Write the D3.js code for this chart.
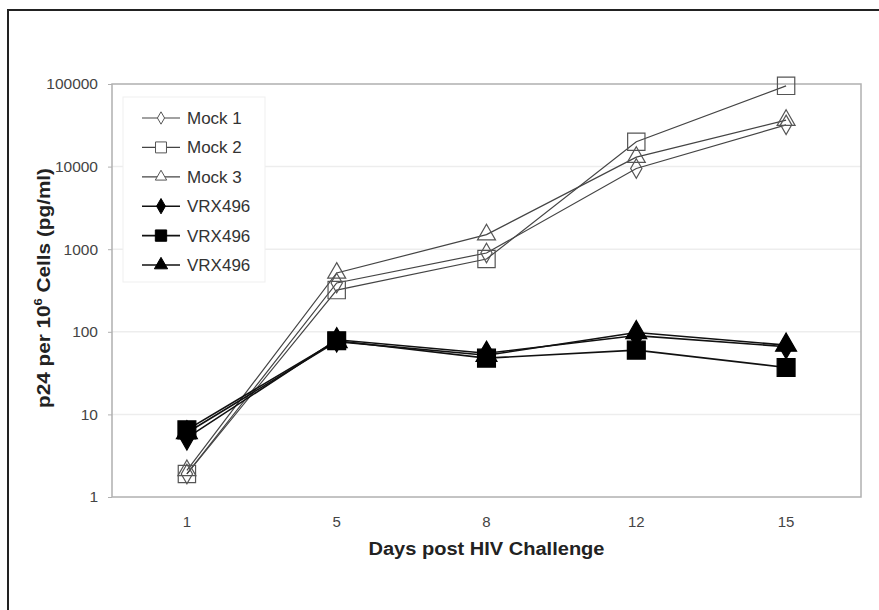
<!DOCTYPE html>
<html lang="en">
<head>
<meta charset="UTF-8"/>
<title>p24 per 10^6 cells</title>
<script src="https://d3js.org/d3.v7.min.js"></script>
<style>
  body { margin: 0; background: #fff; }
  text { font-family: "Liberation Sans", Arial, sans-serif; }
</style>
</head>
<body>
<script>
// data
var days = ["1", "5", "8", "12", "15"];
var yTicks = [1, 10, 100, 1000, 10000, 100000];
var seriesNames = ["Mock 1", "Mock 2", "Mock 3", "VRX496", "VRX496", "VRX496"];
var mock1 = [1.9, 390, 900, 9500, 32000];
var mock2 = [1.9, 320, 760, 20000, 95000];
var mock3 = [2.1, 515, 1500, 13000, 36500];
var vrxDiamond = [5.2, 80, 55, 90, 66];
var vrxSquare = [6.5, 78, 48, 60, 37];
var vrxTriangle = [6.0, 76, 52, 98, 69];

var w = 879, h = 610;
// plot area (note: "top" is reserved on window, so use px/py names)
var pxL = 112, pxR = 861, pyT = 84, pyB = 497;

var svg = d3.select("body").append("svg")
    .attr("width", w)
    .attr("height", h);

// outer frame (only top and left fall inside the picture)
svg.append("rect")
    .attr("x", 8).attr("y", 10)
    .attr("width", 900).attr("height", 700)
    .attr("fill", "none")
    .attr("stroke", "#222")
    .attr("stroke-width", 2);

var x = d3.scaleBand()
    .domain(days)
    .range([pxL, pxR]);

var y = d3.scaleLog()
    .domain([1, 100000])
    .range([pyB, pyT]);

// gridlines
svg.selectAll("line.grid")
    .data(yTicks.slice(1, 5))
    .enter()
    .append("line")
    .attr("class", "grid")
    .attr("x1", pxL).attr("x2", pxR)
    .attr("y1", function(d){ return y(d); })
    .attr("y2", function(d){ return y(d); })
    .attr("stroke", "#ededed")
    .attr("stroke-width", 1.5);

// plot frame
svg.append("rect")
    .attr("x", pxL).attr("y", pyT)
    .attr("width", pxR - pxL).attr("height", pyB - pyT)
    .attr("fill", "none")
    .attr("stroke", "#b0b0b0")
    .attr("stroke-width", 1.5);

// y axis
var yAxis = svg.append("g")
    .attr("transform", "translate(" + pxL + ",0)")
    .call(d3.axisLeft(y).tickValues(yTicks).tickFormat(d3.format("d")).tickSize(4).tickPadding(10));
yAxis.select(".domain").remove();
yAxis.selectAll("line").attr("stroke", "#b0b0b0");
yAxis.selectAll("text").attr("font-size", 15.5).attr("fill", "#444")
    .attr("font-family", "Liberation Sans, Arial, sans-serif");

// x axis
var xAxis = svg.append("g")
    .attr("transform", "translate(0," + pyB + ")")
    .call(d3.axisBottom(x).tickSize(0).tickPadding(19));
xAxis.select(".domain").remove();
xAxis.selectAll("text").attr("font-size", 15).attr("fill", "#444")
    .attr("font-family", "Liberation Sans, Arial, sans-serif");

// axis titles
svg.append("text")
    .attr("x", x("8") + x.bandwidth() / 2)
    .attr("y", 555)
    .attr("text-anchor", "middle")
    .attr("font-size", 18)
    .attr("font-weight", "bold")
    .attr("fill", "#222")
    .attr("textLength", 236)
    .attr("lengthAdjust", "spacingAndGlyphs")
    .text("Days post HIV Challenge");

var yt = svg.append("text")
    .attr("transform", "translate(50,288) rotate(-90)")
    .attr("text-anchor", "middle")
    .attr("font-size", 17.5)
    .attr("font-weight", "bold")
    .attr("fill", "#222")
    .attr("textLength", 240)
    .attr("lengthAdjust", "spacingAndGlyphs");
yt.append("tspan").text("p24 per 10");
yt.append("tspan").attr("dy", -8).attr("font-size", 11).text("6");
yt.append("tspan").attr("dy", 8).text(" Cells (pg/ml)");

var series = [
    { name: seriesNames[0], values: mock1, shape: d3.symbolDiamond, size: 110, filled: false },
    { name: seriesNames[1], values: mock2, shape: d3.symbolSquare, size: 300, filled: false },
    { name: seriesNames[2], values: mock3, shape: d3.symbolTriangle, size: 140, filled: false },
    { name: seriesNames[3], values: vrxDiamond, shape: d3.symbolDiamond, size: 170, filled: true },
    { name: seriesNames[4], values: vrxSquare, shape: d3.symbolSquare, size: 320, filled: true },
    { name: seriesNames[5], values: vrxTriangle, shape: d3.symbolTriangle, size: 190, filled: true }
];

var line = d3.line()
    .x(function(d, i){ return x(days[i]) + x.bandwidth() / 2; })
    .y(function(d){ return y(d); });

series.forEach(function(s){
    svg.append("path")
        .datum(s.values)
        .attr("d", line)
        .attr("fill", "none")
        .attr("stroke", s.filled ? "#111" : "#444")
        .attr("stroke-width", s.filled ? 1.6 : 1.2);
});

series.forEach(function(s){
    svg.selectAll(null)
        .data(s.values)
        .enter()
        .append("path")
        .attr("transform", function(d, i){
            return "translate(" + (x(days[i]) + x.bandwidth() / 2) + "," + y(d) + ")";
        })
        .attr("d", d3.symbol().type(s.shape).size(s.size))
        .attr("fill", s.filled ? "#000" : "none")
        .attr("stroke", s.filled ? "#000" : "#555")
        .attr("stroke-width", 1.2);
});

// legend
var lg = svg.append("g");
lg.append("rect")
    .attr("x", 123).attr("y", 97)
    .attr("width", 142).attr("height", 185)
    .attr("fill", "#fff")
    .attr("stroke", "#efefef");

series.forEach(function(s, i){
    var ly = 118 + i * 29.4;
    lg.append("line")
        .attr("x1", 142).attr("x2", 180)
        .attr("y1", ly).attr("y2", ly)
        .attr("stroke", s.filled ? "#111" : "#444")
        .attr("stroke-width", s.filled ? 1.6 : 1.2);
    lg.append("path")
        .attr("transform", "translate(161," + ly + ")")
        .attr("d", d3.symbol().type(s.shape).size(s.size * 0.4))
        .attr("fill", s.filled ? "#000" : "#fff")
        .attr("stroke", s.filled ? "#000" : "#555")
        .attr("stroke-width", 1);
    lg.append("text")
        .attr("x", 187).attr("y", ly + 6)
        .attr("font-size", 17)
        .attr("fill", "#333")
        .text(s.name);
});
</script>
</body>
</html>
